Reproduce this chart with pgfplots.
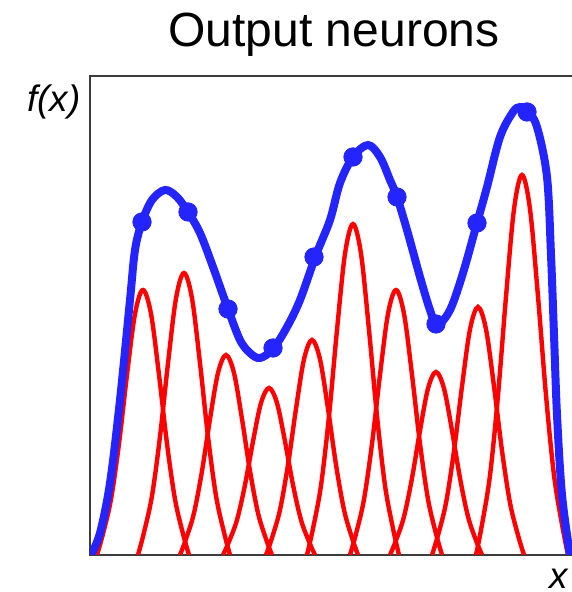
\documentclass[border=0pt]{standalone}
\usepackage{fontspec}
\setmainfont{Liberation Sans}
\usepackage{pgfplots}
\pgfplotsset{compat=1.18}
\definecolor{curveblue}{RGB}{36,36,255}
\definecolor{framegray}{RGB}{60,60,60}

\begin{document}
\begin{tikzpicture}
\begin{axis}[
    scale only axis,
    width=241.5pt, height=239.5pt,
    xmin=90, xmax=573, ymin=0, ymax=479,
    xtick=\empty, ytick=\empty,
    axis line style={framegray, line width=1pt},
    every axis plot/.append style={smooth, tension=0.55},
]
% red bumps (pixel-ish units, y measured up from the baseline)
\addplot[red, line width=2.2pt] coordinates {(97,0) (103,21.2) (111,55.7) (119,111.3) (127,180.2) (135,241.2) (143,265) (151,241.2) (159,180.2) (167,111.3) (175,55.7) (183,21.2) (189,0)};
\addplot[red, line width=2.2pt] coordinates {(138,0) (144,22.6) (152,59.2) (160,118.4) (168,191.8) (176,256.6) (184,282) (192,256.6) (200,191.8) (208,118.4) (216,59.2) (224,22.6) (230,0)};
\addplot[red, line width=2.2pt] coordinates {(180,0) (186,16) (194,42) (202,84) (210,136) (218,182) (226,200) (234,182) (242,136) (250,84) (258,42) (266,16) (272,0)};
\addplot[red, line width=2.2pt] coordinates {(223,0) (229,13.4) (237,35.1) (245,70.1) (253,113.6) (261,152) (269,167) (277,152) (285,113.6) (293,70.1) (301,35.1) (309,13.4) (315,0)};
\addplot[red, line width=2.2pt] coordinates {(266,0) (272,17.2) (280,45.2) (288,90.3) (296,146.2) (304,195.7) (312,215) (320,195.7) (328,146.2) (336,90.3) (344,45.2) (352,17.2) (358,0)};
\addplot[red, line width=2.2pt] coordinates {(307,0) (313,26.5) (321,69.5) (329,139) (337,225.1) (345,301.2) (353,331) (361,301.2) (369,225.1) (377,139) (385,69.5) (393,26.5) (399,0)};
\addplot[red, line width=2.2pt] coordinates {(350,0) (356,21.2) (364,55.7) (372,111.3) (380,180.2) (388,241.2) (396,265) (404,241.2) (412,180.2) (420,111.3) (428,55.7) (436,21.2) (442,0)};
\addplot[red, line width=2.2pt] coordinates {(390,0) (396,14.6) (404,38.4) (412,76.9) (420,124.4) (428,166.5) (436,183) (444,166.5) (452,124.4) (460,76.9) (468,38.4) (476,14.6) (482,0)};
\addplot[red, line width=2.2pt] coordinates {(432,0) (438,19.8) (446,52.1) (454,104.2) (462,168.6) (470,225.7) (478,248) (486,225.7) (494,168.6) (502,104.2) (510,52.1) (518,19.8) (524,0)};
\addplot[red, line width=2.2pt] coordinates {(476,0) (482,30.4) (490,79.8) (498,159.6) (506,258.4) (514,345.8) (522,380) (530,345.8) (538,258.4) (546,159.6) (554,79.8) (562,30.4) (568,0)};
% blue output curve
\addplot[curveblue, line width=4pt] coordinates {
(91,0) (100,22) (110,72) (120,155) (130,255) (135,305) (142,333) (152,355)
(165,365) (177,358) (188,343) (200,322) (213,288) (228,246) (240,215) (250,202)
(260,197) (273,206) (287,228) (300,255) (316,300) (330,335) (340,372) (353,398)
(368,410) (380,398) (390,375) (397,358) (407,325) (420,278) (430,245) (437,230)
(450,245) (463,282) (477,332) (487,368) (500,418) (513,443) (520,448) (527,445)
(537,428) (547,378) (551,300) (554,220) (557,140) (562,60) (570,0)};
% blue dots
\addplot[only marks, mark=*, mark size=4.6pt, color=curveblue] coordinates {
(142,333) (188,343) (228,246) (273,207) (314,298) (353,398) (397,358) (436,231) (477,332) (527,443)};
\coordinate (bl) at (axis cs:0,-37);
\coordinate (tr) at (axis cs:571,555);
\coordinate (ttl) at (axis cs:334,508);
\coordinate (fx) at (axis cs:27,443);
\coordinate (xl) at (axis cs:549,-33);
\end{axis}
\node[anchor=base west, inner sep=0pt, font=\fontsize{24}{28}\selectfont] at (ttl) [anchor=base] {Output neurons};
\node[anchor=base west, inner sep=0pt, font=\fontsize{18.4}{22}\selectfont\itshape] at (fx) {f(x)};
\node[anchor=base west, inner sep=0pt, font=\fontsize{18.4}{22}\selectfont\itshape] at (xl) {x};
\pgfresetboundingbox
\useasboundingbox (bl) rectangle (tr);
\end{tikzpicture}
\end{document}
